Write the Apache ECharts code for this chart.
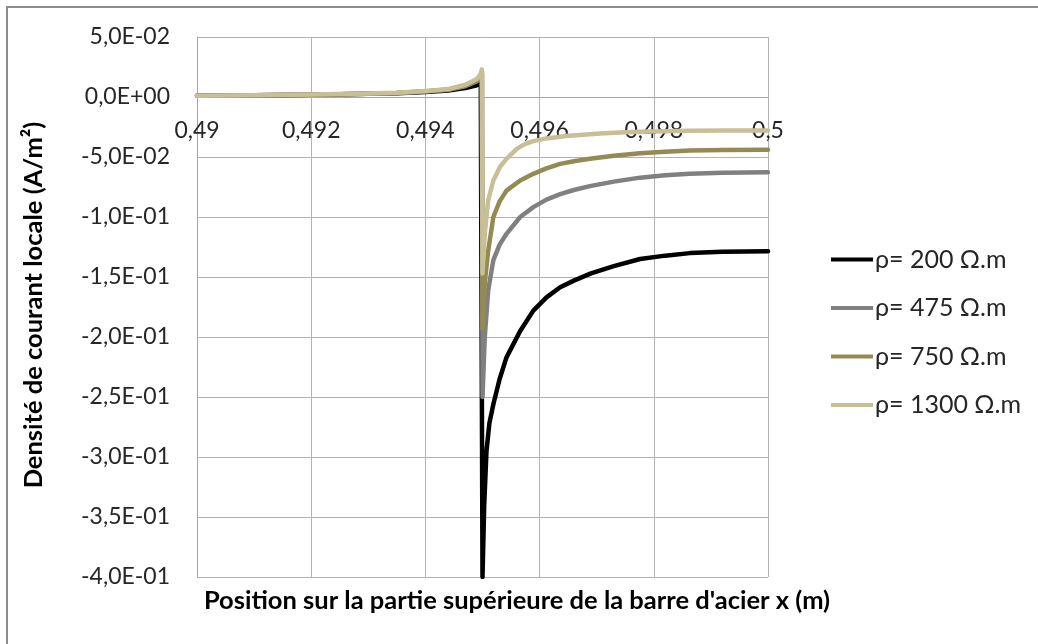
<!DOCTYPE html>
<html>
<head>
<meta charset="utf-8">
<script src="https://cdn.jsdelivr.net/npm/echarts@6/dist/echarts.min.js"></script>
<style>
  html, body { margin: 0; padding: 0; background: #fff; }
  #chart { width: 1038px; height: 644px; }
</style>
</head>
<body>
<div id="chart"></div>
<script>
// Local current density along the top of the steel bar, for four soil resistivities.
const seriesNames = ['ρ= 200 Ω.m', 'ρ= 475 Ω.m', 'ρ= 750 Ω.m', 'ρ= 1300 Ω.m'];
const seriesColors = ['#000000', '#808080', '#948a54', '#c8bf97'];

// Positions (m) before the discontinuity, shared by every curve
const xLeft = [0.49, 0.491, 0.492, 0.493, 0.4935, 0.494, 0.4944, 0.4947, 0.4949, 0.49497, 0.49499];
const rho200Left  = [0.0010, 0.0014, 0.0019, 0.0027, 0.0032, 0.0042, 0.0055, 0.0075, 0.0098, 0.0112, 0.0120];
const rho475Left  = [0.0010, 0.0014, 0.0019, 0.0027, 0.0033, 0.0045, 0.0060, 0.0090, 0.0130, 0.0165, 0.0190];
const rho750Left  = [0.0010, 0.0014, 0.0019, 0.0028, 0.0034, 0.0047, 0.0063, 0.0096, 0.0140, 0.0180, 0.0210];
const rho1300Left = [0.0010, 0.0015, 0.0020, 0.0029, 0.0035, 0.0049, 0.0066, 0.0102, 0.0150, 0.0195, 0.0230];

// Positions (m) and values after the discontinuity
const x200Right   = [0.495, 0.49503, 0.49507, 0.49512, 0.49519, 0.4953, 0.49542, 0.49566, 0.49589, 0.49612, 0.49636, 0.4966, 0.4969, 0.4973, 0.49776, 0.4982, 0.49863, 0.4992, 0.5];
const rho200Right = [-0.400, -0.340, -0.295, -0.272, -0.256, -0.235, -0.217, -0.195, -0.178, -0.167, -0.1585, -0.153, -0.147, -0.141, -0.135, -0.1322, -0.1301, -0.129, -0.1285];

const x475Right   = [0.495, 0.49502, 0.49504, 0.4951, 0.49519, 0.4953, 0.49542, 0.49566, 0.49589, 0.49612, 0.49636, 0.4966, 0.49688, 0.4973, 0.49776, 0.4982, 0.49863, 0.4992, 0.5];
const rho475Right = [-0.250, -0.225, -0.200, -0.161, -0.136, -0.123, -0.114, -0.100, -0.0918, -0.0855, -0.0810, -0.0775, -0.0743, -0.0705, -0.0672, -0.0652, -0.0640, -0.0632, -0.0627];

const x750Right   = [0.495, 0.49502, 0.49504, 0.4951, 0.49519, 0.4953, 0.49542, 0.49566, 0.49589, 0.49612, 0.49636, 0.4966, 0.49688, 0.4973, 0.49776, 0.4982, 0.49863, 0.4992, 0.5];
const rho750Right = [-0.193, -0.175, -0.155, -0.128, -0.100, -0.087, -0.078, -0.0696, -0.0640, -0.0595, -0.0557, -0.0535, -0.0515, -0.0490, -0.0468, -0.0456, -0.0446, -0.0442, -0.0440];

const x1300Right   = [0.495, 0.49502, 0.49504, 0.4951, 0.49519, 0.49531, 0.49542, 0.4956, 0.49574, 0.49589, 0.49612, 0.49647, 0.49688, 0.49706, 0.4974, 0.49776, 0.4982, 0.49863, 0.4992, 0.5];
const rho1300Right = [-0.147, -0.130, -0.114, -0.086, -0.0696, -0.0580, -0.0515, -0.0432, -0.0393, -0.0368, -0.0345, -0.0325, -0.0311, -0.0305, -0.0296, -0.0289, -0.0285, -0.0282, -0.0280, -0.0279];

// Axis ticks
const xMin = 0.49, xMax = 0.5, xStep = 0.002;
const yMin = -0.4, yMax = 0.05, yStep = 0.05;

const leftParts  = [rho200Left, rho475Left, rho750Left, rho1300Left];
const rightXs    = [x200Right, x475Right, x750Right, x1300Right];
const rightParts = [rho200Right, rho475Right, rho750Right, rho1300Right];

function pairs(xs, ys) { return xs.map((x, i) => [x, ys[i]]); }

const FONT = 'Lato, "Open Sans", sans-serif';

// Plot box inside the 1038x644 canvas
const GRID = { left: 197, right: 270, top: 37, bottom: 67 };
const plotHeight = 644 - GRID.top - GRID.bottom;
// The horizontal axis sits on y = 0, so shift it up from the bottom edge
const zeroOffset = -plotHeight * (0 - yMin) / (yMax - yMin);

function xLabel(v) {
  return String(parseFloat(v.toFixed(3))).replace('.', ',');
}
function yLabel(v) {
  const s = Number(v).toExponential(1);           // e.g. "-5.0e-2"
  const m = s.match(/^(-?\d\.\d)e([+-])(\d+)$/);
  const exp = m[3].padStart(2, '0');
  return m[1].replace('.', ',') + 'E' + m[2] + exp;
}

const series = seriesNames.map((name, k) => ({
  name: name,
  type: 'line',
  showSymbol: false,
  symbol: 'none',
  smooth: false,
  lineStyle: { color: seriesColors[k], width: 4.5, cap: 'round', join: 'round' },
  itemStyle: { color: seriesColors[k] },
  data: pairs(xLeft, leftParts[k]).concat(pairs(rightXs[k], rightParts[k])),
  z: 2 + k,
  animation: false
}));

const chart = echarts.init(document.getElementById('chart'), null, { renderer: 'canvas' });
chart.setOption({
  backgroundColor: '#ffffff',
  animation: false,
  grid: Object.assign({ containLabel: false }, GRID),
  xAxis: {
    type: 'value',
    position: 'bottom',
    offset: zeroOffset,
    min: xMin, max: xMax, interval: xStep,
    axisLine: { onZero: false, lineStyle: { color: '#a6a6a6', width: 1 } },
    axisTick: { show: false },
    axisLabel: { formatter: xLabel, fontFamily: FONT, fontSize: 23, color: '#262626', margin: 22, showMinLabel: true, showMaxLabel: true },
    splitLine: { show: true, lineStyle: { color: '#b3b3b3', width: 1 } }
  },
  yAxis: {
    type: 'value',
    min: yMin, max: yMax, interval: yStep,
    axisLine: { show: true, lineStyle: { color: '#a6a6a6', width: 1 } },
    axisTick: { show: false },
    axisLabel: { formatter: yLabel, fontFamily: FONT, fontSize: 23, color: '#262626', margin: 27 },
    splitLine: { show: true, lineStyle: { color: '#b3b3b3', width: 1 } }
  },
  legend: {
    orient: 'vertical',
    left: 826, top: 242,
    icon: 'rect',
    itemWidth: 42, itemHeight: 4,
    itemGap: 23.5,
    textStyle: { fontFamily: FONT, fontSize: 25, color: '#262626', lineHeight: 25, padding: [0, 0, 0, -3] },
    data: seriesNames
  },
  graphic: [
    { type: 'rect', shape: { x: 7, y: 7, width: 1100, height: 700 }, style: { fill: 'none', stroke: '#8c8c8c', lineWidth: 2 }, silent: true, z: 0 },
    { type: 'text', x: 34, y: 305, rotation: Math.PI / 2, style: { text: 'Densité de courant locale (A/m²)', font: 'bold 25.5px ' + FONT, fill: '#000', textAlign: 'center', textVerticalAlign: 'middle' } },
    { type: 'text', x: 517, y: 601, style: { text: "Position sur la partie supérieure de la barre d'acier x (m)", font: 'bold 25.5px ' + FONT, fill: '#000', textAlign: 'center', textVerticalAlign: 'middle' } }
  ],
  series: series
});
</script>
</body>
</html>
